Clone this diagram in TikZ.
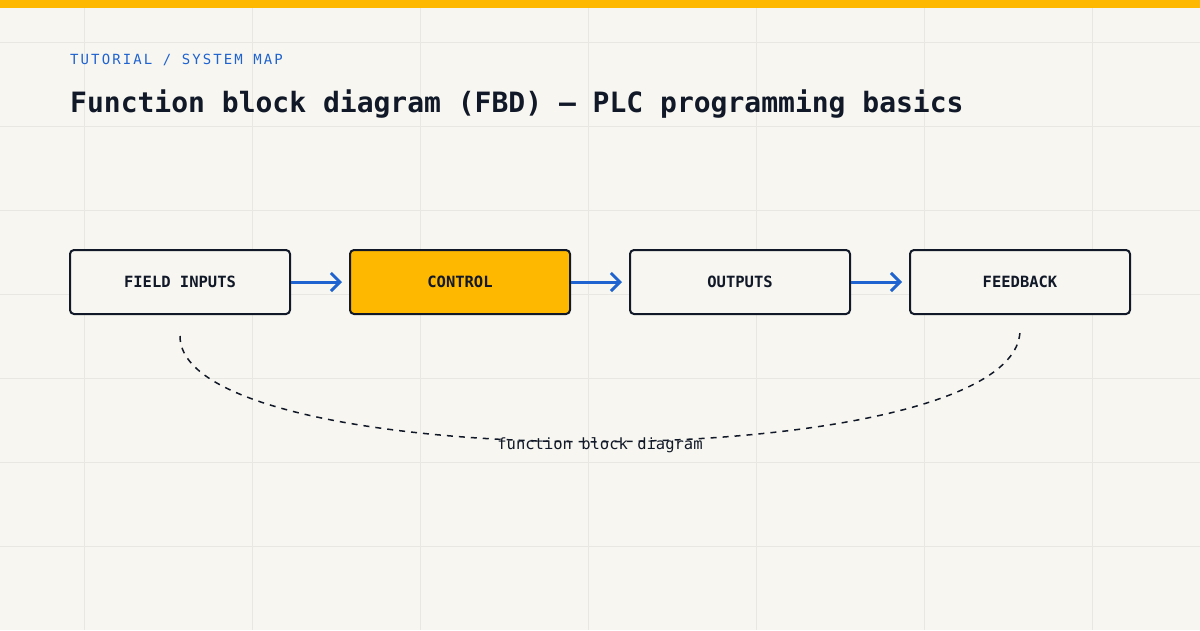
\documentclass[tikz,border=0pt]{standalone}
\usepackage{fontspec}
\setmonofont{DejaVu Sans Mono}
\usetikzlibrary{arrows.meta}
\definecolor{bg}{HTML}{F7F6F1}
\definecolor{grid}{HTML}{E8E7E1}
\definecolor{acc}{HTML}{FFB800}
\definecolor{ink}{HTML}{111827}
\definecolor{blu}{HTML}{1F63D0}
\begin{document}
\begin{tikzpicture}[x=1pt,y=-1pt,
  box/.style={draw=ink,line width=2pt,rounded corners=4pt,minimum width=220pt,minimum height=64pt,fill=bg,font=\ttfamily\bfseries\fontsize{15.5}{18}\selectfont,text=ink},
  arr/.style={draw=blu,line width=3pt,shorten >=7pt,-{Straight Barb[length=9pt,width=18pt,line width=3pt]}}]
\useasboundingbox (0,0) rectangle (1200,630);
\fill[bg] (0,0) rectangle (1200,630);
\foreach \x in {84,252,...,1092} \draw[grid,line width=1pt] (\x,0) -- (\x,630);
\foreach \y in {42,126,...,546} \draw[grid,line width=1pt] (0,\y) -- (1200,\y);
\fill[acc] (0,0) rectangle (1200,8);
\node[anchor=base west,inner sep=0pt,text=blu,font=\ttfamily\fontsize{14}{16}\selectfont\addfontfeature{LetterSpace=15}] (sub) at (70,64) {TUTORIAL / SYSTEM MAP};
\node[anchor=base west,inner sep=0pt,text=ink,font=\ttfamily\bfseries\fontsize{28}{32}\selectfont] (title) at (70,112) {Function block diagram (FBD) — PLC programming basics};
\node[box] (a) at (180,282) {FIELD INPUTS};
\node[box,fill=acc] (b) at (460,282) {CONTROL};
\node[box] (c) at (740,282) {OUTPUTS};
\node[box] (d) at (1020,282) {FEEDBACK};
\draw[arr] (a.east) -- (b.west);
\draw[arr] (b.east) -- (c.west);
\draw[arr] (c.east) -- (d.west);
\coordinate (s) at (180,336);
\coordinate (e) at (1020,330);
\draw[ink,line width=1.5pt,dash pattern=on 6pt off 6pt] (s) .. controls (180,478) and (1020,478) .. (e);
\node[text=ink,font=\ttfamily\fontsize{15.5}{18}\selectfont] (lab) at (600,445) {function block diagram};
\end{tikzpicture}
\end{document}
